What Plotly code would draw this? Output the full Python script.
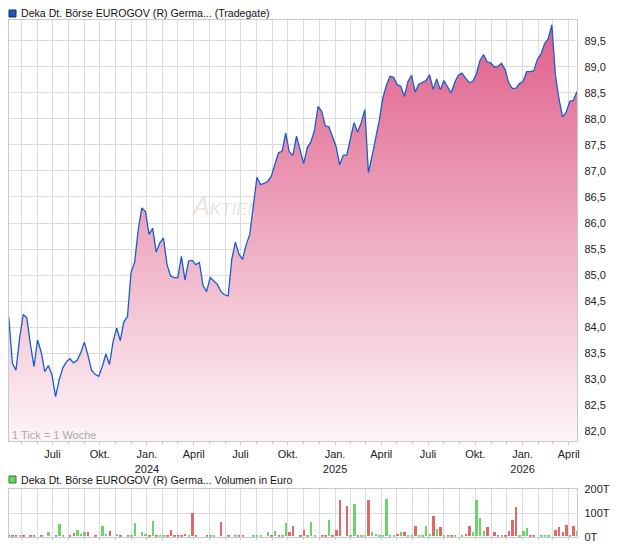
import pandas as pd
import plotly.graph_objects as go

# ---------------- data ----------------
first_week = "2023-04-07"
n_weeks = 159

price = [
    84.19, 83.30, 83.17, 83.78, 84.24, 84.18, 83.67, 83.24, 83.75, 83.52,
    83.14, 83.26, 83.08, 82.66, 82.98, 83.21, 83.33, 83.39, 83.31, 83.36,
    83.50, 83.71, 83.46, 83.17, 83.09, 83.05, 83.24, 83.48, 83.28, 83.72,
    83.98, 83.74, 84.10, 84.20, 85.05, 85.25, 85.88, 86.29, 86.22, 85.78,
    85.90, 85.44, 85.62, 85.71, 85.20, 84.98, 84.95, 84.95, 85.36, 84.90,
    85.27, 85.28, 85.20, 85.24, 84.80, 84.68, 84.95, 84.89, 84.82, 84.68,
    84.62, 84.60, 85.30, 85.63, 85.40, 85.30, 85.58, 85.78, 86.35, 86.88,
    86.74, 86.76, 86.80, 86.90, 87.13, 87.35, 87.38, 87.73, 87.37, 87.30,
    87.67, 87.42, 87.14, 87.45, 87.56, 87.78, 88.24, 88.15, 87.87, 87.85,
    87.65, 87.47, 87.12, 87.30, 87.31, 87.63, 87.93, 87.75, 87.93, 88.18,
    86.97, 87.28, 87.60, 87.97, 88.40, 88.65, 88.82, 88.80, 88.66, 88.63,
    88.43, 88.72, 88.84, 88.52, 88.67, 88.71, 88.74, 88.85, 88.57, 88.77,
    88.56, 88.74, 88.62, 88.50, 88.70, 88.84, 88.88, 88.78, 88.70, 88.72,
    88.86, 89.12, 89.24, 89.10, 89.08, 89.00, 89.01, 89.07, 88.95, 88.70,
    88.59, 88.59, 88.68, 88.72, 88.91, 88.91, 88.93, 89.15, 89.25, 89.45,
    89.54, 89.81, 88.85, 88.38, 88.04, 88.13, 88.34, 88.36, 88.53,
]

# weekly volume in thousand euro, split by up (green) / down (red) weeks
vol_up = [
    0, 0, 0, 7, 0, 0, 0, 0, 0, 0,
    0, 18, 0, 0, 54, 3, 0, 0, 0, 28,
    11, 20, 0, 0, 0, 0, 45, 11, 0, 0,
    11, 0, 0, 0, 3, 58, 0, 20, 11, 0,
    67, 0, 3, 3, 0, 0, 0, 0, 0, 0,
    7, 0, 0, 0, 0, 0, 3, 3, 0, 0,
    0, 0, 0, 7, 0, 0, 0, 0, 3, 3,
    3, 0, 20, 0, 24, 0, 3, 58, 0, 0,
    0, 0, 0, 7, 60, 3, 0, 0, 0, 71,
    0, 0, 0, 0, 0, 3, 135, 0, 7, 7,
    0, 20, 11, 3, 3, 156, 7, 3, 0, 17,
    0, 3, 3, 0, 7, 3, 42, 11, 0, 33,
    0, 4, 0, 0, 3, 0, 3, 0, 0, 17,
    152, 79, 21, 0, 0, 0, 0, 4, 0, 0,
    0, 0, 3, 24, 37, 0, 0, 0, 3, 4,
    4, 0, 0, 0, 0, 0, 3, 0, 24,
]
vol_down = [
    3, 3, 3, 0, 3, 0, 3, 3, 0, 3,
    0, 0, 0, 3, 0, 0, 0, 3, 14, 0,
    0, 0, 20, 0, 3, 0, 0, 0, 24, 0,
    0, 7, 0, 3, 0, 0, 0, 0, 0, 3,
    0, 7, 0, 0, 3, 28, 3, 3, 3, 11,
    0, 100, 3, 0, 0, 3, 0, 0, 0, 62,
    0, 3, 0, 0, 7, 3, 0, 0, 0, 0,
    0, 0, 0, 7, 0, 3, 0, 0, 20, 45,
    0, 7, 28, 0, 0, 0, 0, 3, 3, 0,
    7, 26, 152, 0, 128, 0, 0, 3, 0, 0,
    152, 0, 0, 0, 0, 0, 0, 0, 11, 0,
    20, 0, 0, 45, 0, 0, 0, 0, 85, 0,
    40, 0, 3, 3, 0, 0, 0, 11, 45, 0,
    0, 0, 0, 41, 0, 20, 3, 0, 3, 24,
    71, 122, 0, 0, 0, 3, 4, 0, 0, 0,
    0, 0, 28, 40, 20, 50, 0, 45, 0,
]

x_tick_dates = ["2023-07-01", "2023-10-01", "2024-01-01", "2024-04-01",
                "2024-07-01", "2024-10-01", "2025-01-01", "2025-04-01",
                "2025-07-01", "2025-10-01", "2026-01-01", "2026-04-01"]
x_tick_text = ["Juli", "Okt.", "Jan.<br>2024", "April", "Juli", "Okt.",
               "Jan.<br>2025", "April", "Juli", "Okt.", "Jan.<br>2026", "April"]
price_ticks = [82.0, 82.5, 83.0, 83.5, 84.0, 84.5, 85.0, 85.5,
               86.0, 86.5, 87.0, 87.5, 88.0, 88.5, 89.0, 89.5]
vol_ticks = [0, 100, 200]
vol_tick_text = ["0T", "100T", "200T"]

title_price = "Deka Dt. Börse EUROGOV (R) Germa... (Tradegate)"
title_volume = "Deka Dt. Börse EUROGOV (R) Germa... Volumen in Euro"
tick_note = "1 Tick = 1 Woche"
watermark = "A<span style='font-size:17px'>KTIENCHECK</span>"

week_dates = pd.date_range(first_week, periods=n_weeks, freq="7D")

# ---------------- layout helpers ----------------
# the page body has an 8px margin; the figure is sized so the page fits 620x546
OFF = 8
W, H = 620 - OFF, 546 - OFF
FONT = "Liberation Sans, Arial, sans-serif"
GRID = "#dcdcdc"
FRAME = "#c9c9c9"


def fx(p):
    return max(0.0, (p - OFF) / W)


def fy(p):
    return min(1.0, 1 - (p - OFF) / H)


x_start = pd.Timestamp(first_week) - pd.Timedelta(hours=14)
x_end = pd.Timestamp(first_week) + pd.Timedelta(days=1106.6)

fig = go.Figure()

fig.add_trace(go.Scatter(
    x=week_dates, y=price, mode="lines",
    line=dict(color="#1b5ccc", width=1.3),
    fill="tozeroy",
    fillgradient=dict(type="vertical",
                      colorscale=[[0, "#fdf5f8"], [1, "#df5d89"]],
                      start=81.8, stop=89.95),
    xaxis="x", yaxis="y", hoverinfo="skip", showlegend=False,
))

bar_w = 3.8 * 86400000
fig.add_trace(go.Bar(x=week_dates, y=vol_up, marker=dict(color="#6ad36a", line_width=0),
                     width=bar_w, xaxis="x2", yaxis="y2", hoverinfo="skip", showlegend=False))
fig.add_trace(go.Bar(x=week_dates, y=vol_down, marker=dict(color="#e06868", line_width=0),
                     width=bar_w, xaxis="x2", yaxis="y2", hoverinfo="skip", showlegend=False))

common_x = dict(
    type="date", range=[x_start, x_end], domain=[fx(8.5), fx(577.3)],
    tickmode="array", tickvals=x_tick_dates,
    showgrid=True, gridcolor=GRID, gridwidth=1,
    minor=dict(dtick="M1", tick0="2023-05-01", showgrid=True, gridcolor=GRID,
               ticks="outside", ticklen=2, tickcolor=FRAME),
    showline=True, linecolor=FRAME, linewidth=1, mirror=True,
    ticks="outside", ticklen=3, tickcolor=FRAME,
    zeroline=False, automargin=False,
    tickfont=dict(family=FONT, size=11, color="#222"),
)

fig.update_layout(
    width=W, height=H, template="none",
    margin=dict(l=0, r=0, t=0, b=0),
    paper_bgcolor="white", plot_bgcolor="white",
    separators=",.",
    barmode="overlay", bargap=0,
    font=dict(family=FONT, size=11, color="#222"),
    xaxis=dict(common_x, anchor="y", ticktext=x_tick_text),
    yaxis=dict(domain=[fy(441), fy(19.5)], range=[81.808, 89.913], side="right",
               anchor="x", tickmode="array", tickvals=price_ticks, tickformat=".1f",
               showgrid=True, gridcolor=GRID, zeroline=False,
               showline=True, linecolor=FRAME, mirror=True, ticks="",
               ticklabelstandoff=4, automargin=False,
               tickfont=dict(family=FONT, size=11, color="#222")),
    xaxis2=dict(common_x, anchor="y2", showticklabels=False, ticks=""),
    yaxis2=dict(domain=[fy(536.7), fy(489.3)], range=[0, 200], side="right",
                anchor="x2", tickmode="array", tickvals=vol_ticks, ticktext=vol_tick_text,
                showgrid=True, gridcolor=GRID, zeroline=False,
                showline=True, linecolor=FRAME, mirror=True, ticks="",
                ticklabelstandoff=4, automargin=False,
                tickfont=dict(family=FONT, size=11, color="#222")),
    annotations=[
        dict(text=title_price, xref="paper", yref="paper", x=fx(19), y=fy(13.5),
             xanchor="left", yanchor="middle", showarrow=False,
             font=dict(family=FONT, size=10.6, color="#111")),
        dict(text=title_volume, xref="paper", yref="paper", x=fx(19), y=fy(479.5),
             xanchor="left", yanchor="middle", showarrow=False,
             font=dict(family=FONT, size=10.6, color="#111")),
        dict(text=tick_note, xref="paper", yref="paper", x=fx(10), y=fy(435),
             xanchor="left", yanchor="middle", showarrow=False,
             font=dict(family=FONT, size=11, color="#aaaaaa")),
    ],
    shapes=[
        dict(type="rect", xref="paper", yref="paper", x0=fx(9), x1=fx(16), y0=fy(17), y1=fy(10),
             fillcolor="#1f56b8", line=dict(color="#10306e", width=1)),
        dict(type="rect", xref="paper", yref="paper", x0=fx(9), x1=fx(16), y0=fy(483), y1=fy(476),
             fillcolor="#66d55e", line=dict(color="#2b7a2b", width=1)),
        dict(type="rect", xref="paper", yref="paper", x0=fx(190), x1=fx(420), y0=fy(220), y1=fy(188),
             fillcolor="rgba(0,0,0,0)", line=dict(width=0), layer="below",
             label=dict(text=watermark, textposition="middle left", padding=0,
                        font=dict(family=FONT, size=25, color="#e9e4df", style="italic"))),
    ],
)

fig.write_html("out.html")
